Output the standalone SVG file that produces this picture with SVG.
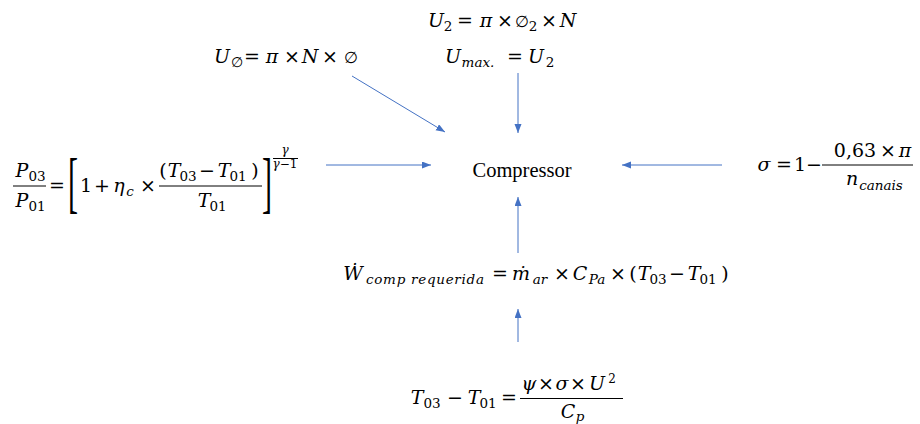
<svg xmlns="http://www.w3.org/2000/svg" width="920" height="424" viewBox="0 0 920 424">
<style>
.t{font-family:"DejaVu Serif",serif;font-size:19px;text-anchor:middle;fill:#000}
.i{font-style:italic}
.s{font-size:13.5px}
.e{font-size:12px}
.phi{font-size:16px}
.br{font-family:"Liberation Serif",serif;font-size:67px;text-anchor:middle;fill:#000}
.bar{stroke:#000;stroke-width:1}
.lbl{font-family:"Liberation Serif",serif;font-size:20.5px;text-anchor:middle;fill:#000}
.c{stroke:#4472C4;stroke-width:1;fill:none;marker-end:url(#ah)}
</style>
<defs>
<marker id="ah" markerUnits="userSpaceOnUse" markerWidth="10" markerHeight="8" refX="9" refY="3.5" orient="auto">
<path d="M0,0 L9,3.5 L0,7 z" fill="#4472C4"/>
</marker>
</defs>
<rect width="920" height="424" fill="#fff"/>

<g id="connectors">
<line class="c" x1="352" y1="76" x2="445" y2="132"/>
<line class="c" x1="518" y1="73" x2="518" y2="133"/>
<line class="c" x1="326" y1="165" x2="431" y2="165"/>
<line class="c" x1="722" y1="165" x2="622" y2="165"/>
<line class="c" x1="518" y1="253" x2="518" y2="197"/>
<line class="c" x1="518" y1="342" x2="518" y2="309"/>
</g>

<g id="node-u2">
<text class="t i" x="436" y="27">U</text>
<text class="t s" x="448" y="31">2</text>
<text class="t" x="465" y="27">=</text>
<text class="t i" x="486" y="27">π</text>
<text class="t" x="505" y="27">×</text>
<text class="t phi" x="522" y="27">∅</text>
<text class="t s" x="533" y="31">2</text>
<text class="t" x="549" y="27">×</text>
<text class="t i" x="568" y="27">N</text>
<text class="t i" x="453" y="63">U</text>
<text class="t s i" x="478" y="67">max.</text>
<text class="t" x="515" y="63">=</text>
<text class="t i" x="536" y="63">U</text>
<text class="t s" x="550" y="67">2</text>
</g>

<g id="node-uphi">
<text class="t i" x="222" y="63">U</text>
<text class="t s" x="237" y="67">∅</text>
<text class="t" x="252" y="63">=</text>
<text class="t i" x="272" y="63">π</text>
<text class="t" x="292" y="63">×</text>
<text class="t i" x="310" y="63">N</text>
<text class="t" x="330" y="63">×</text>
<text class="t phi" x="351" y="63">∅</text>
</g>

<g id="node-pressure">
<text class="t i" x="22" y="177">P</text>
<text class="t s" x="37" y="181">03</text>
<line class="bar" x1="13" y1="186" x2="46" y2="186"/>
<text class="t i" x="22" y="207">P</text>
<text class="t s" x="37" y="211">01</text>
<text class="t" x="57" y="192">=</text>
<text class="br" transform="translate(73,204.5) scale(0.45,1)">[</text>
<text class="t" x="86" y="192">1</text>
<text class="t" x="102" y="192">+</text>
<text class="t i" x="119" y="192">η</text>
<text class="t s i" x="130" y="196">c</text>
<text class="t" x="148" y="192">×</text>
<text class="t" x="163" y="177">(</text>
<text class="t i" x="174" y="177">T</text>
<text class="t s" x="188" y="181">03</text>
<text class="t" x="207" y="177">−</text>
<text class="t i" x="224" y="177">T</text>
<text class="t s" x="238" y="181">01</text>
<text class="t" x="255" y="177">)</text>
<line class="bar" x1="159" y1="186" x2="262" y2="186"/>
<text class="t i" x="204" y="207">T</text>
<text class="t s" x="218" y="211">01</text>
<text class="br" transform="translate(267,204.5) scale(0.45,1)">]</text>
<text class="t e i" x="285" y="154">γ</text>
<line class="bar" x1="273" y1="158.5" x2="298" y2="158.5" stroke-width="0.8"/>
<text class="t e" x="285" y="168"><tspan font-style="italic">γ</tspan>−1</text>
</g>

<g id="node-compressor">
<text class="lbl" x="522" y="177">Compressor</text>
</g>

<g id="node-sigma">
<text class="t i" x="764" y="171">σ</text>
<text class="t" x="784" y="171">=</text>
<text class="t" x="800" y="171">1</text>
<text class="t" x="814" y="171">−</text>
<line class="bar" x1="822" y1="165" x2="913" y2="165"/>
<text class="t" x="855" y="157">0,63</text>
<text class="t" x="888" y="157">×</text>
<text class="t i" x="905" y="157">π</text>
<text class="t i" x="852" y="185">n</text>
<text class="t s i" x="881" y="190">canais</text>
</g>

<g id="node-work">
<text class="t i" x="353" y="280">Ẇ</text>
<text class="t s i" x="425" y="284" textLength="118" lengthAdjust="spacing">comp requerida</text>
<text class="t" x="500" y="280">=</text>
<text class="t i" x="521" y="280">ṁ</text>
<text class="t s i" x="540" y="284">ar</text>
<text class="t" x="562" y="280">×</text>
<text class="t i" x="580" y="280">C</text>
<text class="t s i" x="597" y="284">Pa</text>
<text class="t" x="618" y="280">×</text>
<text class="t" x="633" y="280">(</text>
<text class="t i" x="644" y="280">T</text>
<text class="t s" x="658" y="284">03</text>
<text class="t" x="677" y="280">−</text>
<text class="t i" x="694" y="280">T</text>
<text class="t s" x="708" y="284">01</text>
<text class="t" x="725" y="280">)</text>
</g>

<g id="node-temp">
<text class="t i" x="417" y="404">T</text>
<text class="t s" x="432" y="408">03</text>
<text class="t" x="455" y="404">−</text>
<text class="t i" x="474" y="404">T</text>
<text class="t s" x="488" y="408">01</text>
<text class="t" x="509" y="404">=</text>
<line class="bar" x1="520" y1="398.5" x2="623" y2="398.5"/>
<text class="t i" x="529" y="390">ψ</text>
<text class="t" x="546" y="390">×</text>
<text class="t i" x="562" y="390">σ</text>
<text class="t" x="578" y="390">×</text>
<text class="t i" x="597" y="390">U</text>
<text class="t e" x="612" y="383">2</text>
<text class="t i" x="568" y="418">C</text>
<text class="t s i" x="580" y="421">p</text>
</g>
</svg>
